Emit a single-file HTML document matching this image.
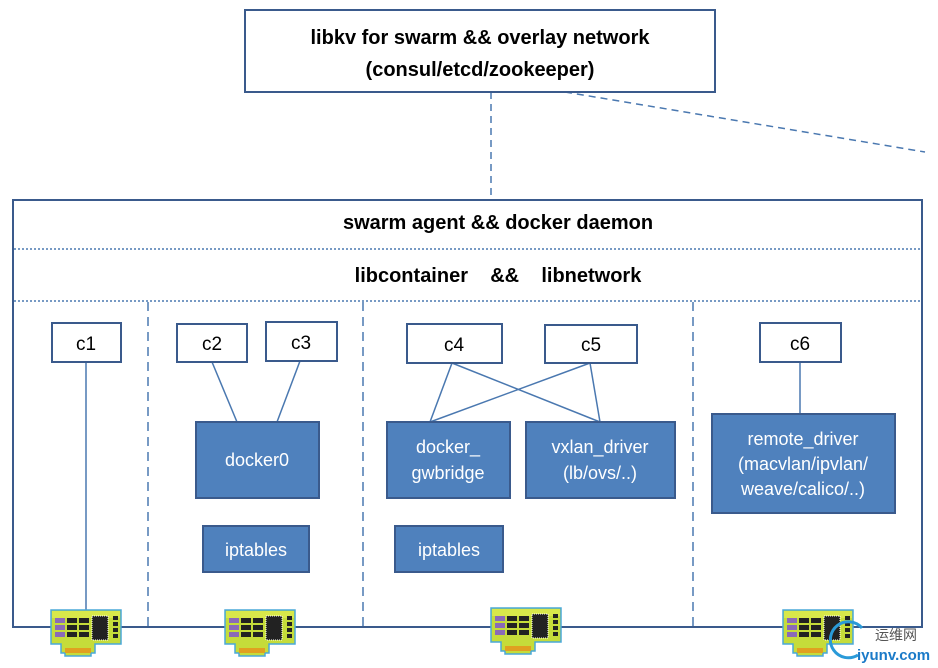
<!DOCTYPE html>
<html><head><style>body{margin:0;background:#fff}svg{display:block}</style></head><body>
<svg width="938" height="668" viewBox="0 0 938 668" xmlns="http://www.w3.org/2000/svg" font-family="Liberation Sans, sans-serif">
<defs>
<g id="nic">
<path d="M0 0 H70 V34 H44 V43 H40 V46 H14 V43 H10 V34 H0 Z" fill="#c5dc3a" stroke="#4aa8d8" stroke-width="1.5"/>
<path d="M1 1 H69 V8 H1Z" fill="#d8e84a"/>
<rect x="4" y="8" width="10" height="5" fill="#8a6ab8"/><rect x="4" y="15" width="10" height="5" fill="#8a6ab8"/><rect x="4" y="22" width="10" height="5" fill="#8a6ab8"/>
<rect x="16" y="8" width="10" height="5" fill="#222"/><rect x="28" y="8" width="10" height="5" fill="#222"/>
<rect x="16" y="15" width="10" height="5" fill="#222"/><rect x="28" y="15" width="10" height="5" fill="#222"/>
<rect x="16" y="22" width="10" height="5" fill="#222"/><rect x="28" y="22" width="10" height="5" fill="#222"/>
<rect x="41" y="6" width="16" height="24" fill="#222" stroke="#fff" stroke-dasharray="1 1"/>
<rect x="62" y="6" width="5" height="4" fill="#222"/><rect x="62" y="12" width="5" height="4" fill="#222"/><rect x="62" y="18" width="5" height="4" fill="#222"/><rect x="62" y="24" width="5" height="4" fill="#222"/>
<rect x="14" y="38" width="26" height="5" fill="#e0a020"/>
</g>
</defs>
<g stroke="#4a78b0" stroke-width="1.5" stroke-dasharray="7 5" fill="none">
<line x1="491" y1="92" x2="491" y2="200"/>
<line x1="565" y1="92" x2="925" y2="152"/>
</g>
<rect x="245" y="10" width="470" height="82" fill="#fff" stroke="#3a5a8c" stroke-width="2"/>
<text x="480" y="44" text-anchor="middle" font-size="20" font-weight="bold">libkv for swarm &amp;&amp; overlay network</text>
<text x="480" y="76" text-anchor="middle" font-size="20" font-weight="bold">(consul/etcd/zookeeper)</text>
<rect x="13" y="200" width="909" height="427" fill="#fff" stroke="#3a5a8c" stroke-width="2"/>
<text x="498" y="229" text-anchor="middle" font-size="20" font-weight="bold">swarm agent &amp;&amp; docker daemon</text>
<text x="498" y="282" text-anchor="middle" font-size="20" font-weight="bold" xml:space="preserve">libcontainer    &amp;&amp;    libnetwork</text>
<g stroke="#4a78b0" stroke-width="1.5" stroke-dasharray="2 2">
<line x1="14" y1="249" x2="921" y2="249"/><line x1="14" y1="301" x2="921" y2="301"/>
</g>
<g stroke="#4a78b0" stroke-width="1.5" stroke-dasharray="9 6">
<line x1="148" y1="302" x2="148" y2="626"/><line x1="363" y1="302" x2="363" y2="626"/><line x1="693" y1="302" x2="693" y2="626"/>
</g>
<line x1="14" y1="627" x2="921" y2="627" stroke="#3a5a8c" stroke-width="2"/>
<g stroke="#4a78b0" stroke-width="1.5">
<line x1="86" y1="362" x2="86" y2="615"/>
<line x1="212" y1="362" x2="237" y2="422"/><line x1="300" y1="361" x2="277" y2="422"/>
<line x1="452" y1="363" x2="430" y2="422"/><line x1="452" y1="363" x2="600" y2="422"/>
<line x1="590" y1="363" x2="430" y2="422"/><line x1="590" y1="363" x2="600" y2="422"/>
<line x1="800" y1="362" x2="800" y2="414"/>
</g>
<g fill="#fff" stroke="#3a5a8c" stroke-width="2">
<rect x="52" y="323" width="69" height="39"/><rect x="177" y="324" width="70" height="38"/><rect x="266" y="322" width="71" height="39"/>
<rect x="407" y="324" width="95" height="39"/><rect x="545" y="325" width="92" height="38"/><rect x="760" y="323" width="81" height="39"/>
</g>
<g font-size="19" text-anchor="middle">
<text x="86" y="350">c1</text><text x="212" y="350">c2</text><text x="301" y="349">c3</text>
<text x="454" y="351">c4</text><text x="591" y="351">c5</text><text x="800" y="350">c6</text>
</g>
<g fill="#4f81bd" stroke="#3a5a8c" stroke-width="2">
<rect x="196" y="422" width="123" height="76"/><rect x="203" y="526" width="106" height="46"/>
<rect x="387" y="422" width="123" height="76"/><rect x="526" y="422" width="149" height="76"/>
<rect x="395" y="526" width="108" height="46"/><rect x="712" y="414" width="183" height="99"/>
</g>
<g fill="#fff" font-size="18" text-anchor="middle">
<text x="257" y="466">docker0</text><text x="256" y="556">iptables</text>
<text x="448" y="453">docker_</text><text x="448" y="479">gwbridge</text>
<text x="600" y="453">vxlan_driver</text><text x="600" y="479">(lb/ovs/..)</text>
<text x="449" y="556">iptables</text>
<text x="803" y="445">remote_driver</text><text x="803" y="470">(macvlan/ipvlan/</text><text x="803" y="495">weave/calico/..)</text>
</g>
<use href="#nic" x="51" y="610"/><use href="#nic" x="225" y="610"/><use href="#nic" x="491" y="608"/><use href="#nic" x="783" y="610"/>
<path d="M862 628 A18 18 0 1 0 858 655" fill="none" stroke="#2a9ad8" stroke-width="3"/>
<text x="875" y="640" font-size="14" fill="#555" font-family="Liberation Sans, Noto Sans CJK SC, sans-serif">运维网</text>
<text x="857" y="660" font-size="15" font-weight="bold" fill="#1a7ac8">iyunv.com</text>
</svg>
</body></html>
